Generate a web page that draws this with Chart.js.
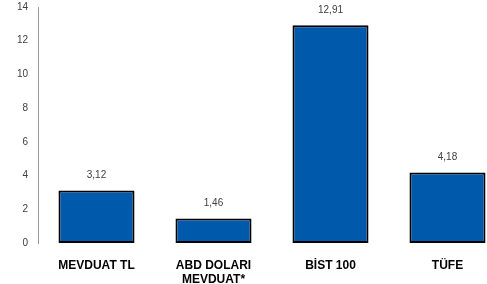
<!DOCTYPE html>
<html>
<head>
<meta charset="utf-8">
<script src="https://cdn.jsdelivr.net/npm/chart.js@4"></script>
<style>
  html, body { margin: 0; padding: 0; background: #fff; overflow: hidden; }
  #kutu { width: 506px; height: 284px; }
</style>
</head>
<body>
<div id="kutu"><canvas id="grafik"></canvas></div>
<script>
// kategoriler ve getiriler (%)
const kategoriler = ["MEVDUAT TL", ["ABD DOLARI", "MEVDUAT*"], "BİST 100", "TÜFE"];
const getiriler = [3.12, 1.46, 12.91, 4.18];
const yEksenMax = 14;
const yAdim = 2;

// bar üstüne değer yazan küçük eklenti
const degerEtiketi = {
  id: "degerEtiketi",
  afterDatasetsDraw(chart) {
    const ctx = chart.ctx;
    const meta = chart.getDatasetMeta(0);
    ctx.save();
    ctx.font = "10px 'Liberation Sans', sans-serif";
    ctx.fillStyle = "#404040";
    ctx.textAlign = "center";
    ctx.textBaseline = "middle";
    meta.data.forEach((bar, i) => {
      const v = getiriler[i].toFixed(2).replace(".", ",");
      ctx.fillText(v, bar.x, bar.y - 15);
    });
    ctx.restore();
  }
};

new Chart(document.getElementById("grafik"), {
  type: "bar",
  data: {
    labels: kategoriler,
    datasets: [{
      data: getiriler,
      backgroundColor: "#0059AB",
      borderColor: "#000000",
      borderWidth: 2,
      borderSkipped: false,
      barPercentage: 0.65,
      categoryPercentage: 1
    }]
  },
  options: {
    responsive: true,
    maintainAspectRatio: false,
    animation: false,
    layout: { padding: { top: 7, right: 0, left: 0, bottom: 0 } },
    plugins: {
      legend: { display: false },
      tooltip: { enabled: false }
    },
    scales: {
      x: {
        grid: { display: false, drawTicks: false },
        border: { display: false },
        ticks: {
          color: "#000000",
          padding: 15,
          maxRotation: 0,
          autoSkip: false,
          font: { family: "'Liberation Sans', sans-serif", size: 12, weight: "bold", lineHeight: 1.2 }
        },
        afterFit(scale) {
          scale.height = 41;
          scale.paddingLeft = 0;
          scale.paddingRight = 0;
        }
      },
      y: {
        min: 0,
        max: yEksenMax,
        grid: { display: false, drawTicks: false },
        border: { display: true, color: "#999999", width: 1 },
        ticks: {
          stepSize: yAdim,
          color: "#404040",
          padding: 10,
          font: { family: "'Liberation Sans', sans-serif", size: 10 }
        },
        afterFit(scale) {
          scale.width = 38;
          scale.paddingTop = 0;
          scale.paddingBottom = 0;
        }
      }
    }
  },
  plugins: [degerEtiketi]
});
</script>
</body>
</html>
